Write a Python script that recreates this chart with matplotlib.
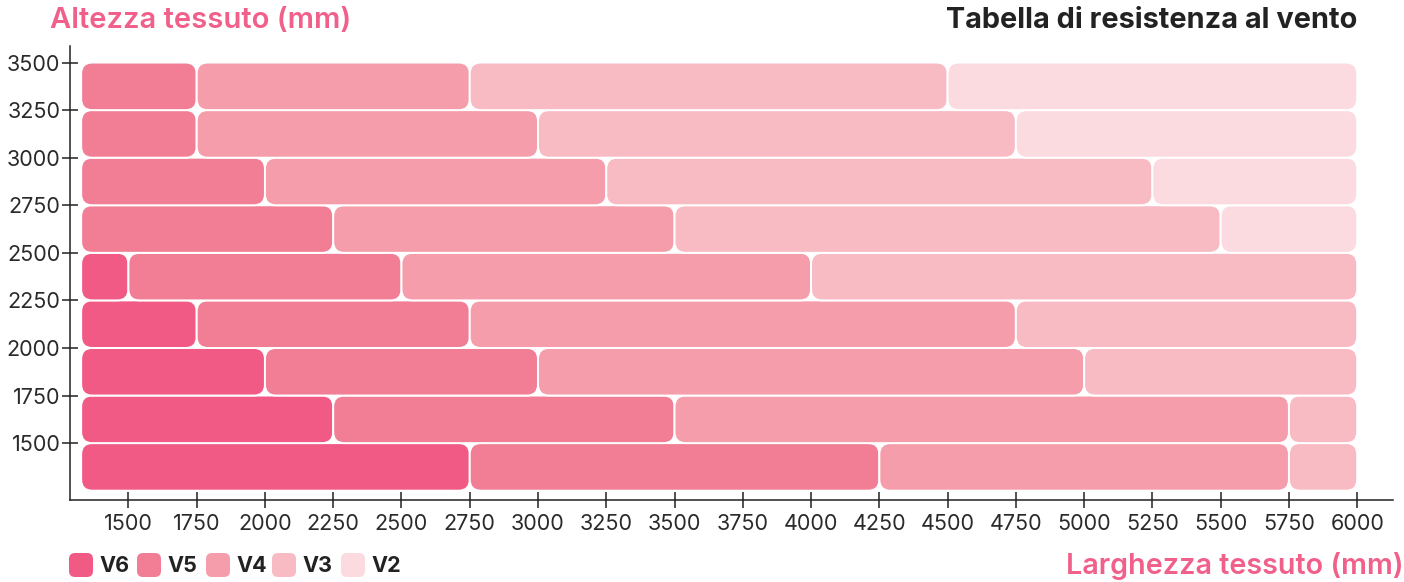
import matplotlib
matplotlib.use("Agg")
import matplotlib.pyplot as plt
from matplotlib.patches import FancyBboxPatch

plt.rcParams['font.family'] = ['Inter', 'DejaVu Sans']

# ---- data ----
row_lows = [1250, 1500, 1750, 2000, 2250, 2500, 2750, 3000, 3250]
row_height = 250
x_start = 1327
# segment right boundaries per row (each row: list of (class, end))
rows = {
    1250: [("V6", 2750), ("V5", 4250), ("V4", 5750), ("V3", 6000)],
    1500: [("V6", 2250), ("V5", 3500), ("V4", 5750), ("V3", 6000)],
    1750: [("V6", 2000), ("V5", 3000), ("V4", 5000), ("V3", 6000)],
    2000: [("V6", 1750), ("V5", 2750), ("V4", 4750), ("V3", 6000)],
    2250: [("V6", 1500), ("V5", 2500), ("V4", 4000), ("V3", 6000)],
    2500: [("V5", 2250), ("V4", 3500), ("V3", 5500), ("V2", 6000)],
    2750: [("V5", 2000), ("V4", 3250), ("V3", 5250), ("V2", 6000)],
    3000: [("V5", 1750), ("V4", 3000), ("V3", 4750), ("V2", 6000)],
    3250: [("V5", 1750), ("V4", 2750), ("V3", 4500), ("V2", 6000)],
}
classes = ["V6", "V5", "V4", "V3", "V2"]
colors = {"V6": "#F05A85", "V5": "#F27E95", "V4": "#F59DAA", "V3": "#F8BBC4", "V2": "#FBDBDF"}
x_ticks = list(range(1500, 6001, 250))
y_ticks = list(range(1500, 3501, 250))

title = "Tabella di resistenza al vento"
ylabel = "Altezza tessuto (mm)"
xlabel = "Larghezza tessuto (mm)"

W, H = 1404, 582
fig = plt.figure(figsize=(W / 100, H / 100), dpi=100)
ax = fig.add_axes([69.7 / W, (H - 500) / H, (1392.7 - 69.7) / W, (500 - 46) / H])
ax.set_xlim(1285, 6130)
ax.set_ylim(1201, 3587)

# pixel scale for round corners
fig.canvas.draw()
bb = ax.get_window_extent()
xu_per_px = (6130 - 1285) / bb.width
yu_per_px = (3587 - 1201) / bb.height
r_px = 11
rs = r_px * xu_per_px
aspect = yu_per_px / xu_per_px

for lo in row_lows:
    start = x_start
    for cls, end in rows[lo]:
        p = FancyBboxPatch((start, lo), end - start, row_height,
                           boxstyle=f"round,pad=0,rounding_size={rs}",
                           mutation_aspect=aspect,
                           facecolor=colors[cls], edgecolor="white", linewidth=1.4)
        ax.add_patch(p)
        start = end

for s in ["top", "right"]:
    ax.spines[s].set_visible(False)
for s in ["left", "bottom"]:
    ax.spines[s].set_color("#222222")
    ax.spines[s].set_linewidth(1.1)

ax.set_xticks(x_ticks)
ax.set_yticks(y_ticks)
ax.tick_params(direction="inout", length=11.5, width=1.1, color="#222222",
               labelsize=15.5, labelcolor="#2a2a2a")
ax.tick_params(axis="x", pad=4)
ax.tick_params(axis="y", pad=1)
for lab in ax.get_xticklabels() + ax.get_yticklabels():
    lab.set_fontweight("normal")

pink = "#F0608A"
fig.text(50 / W, 1 - 20 / H, ylabel, color=pink, fontsize=21, fontweight="semibold",
         ha="left", va="center")
fig.text(1357 / W, 1 - 20 / H, title, color="#222222", fontsize=20.8, fontweight="bold",
         ha="right", va="center")
fig.text(1404 / W, 1 - 566 / H, xlabel, color=pink, fontsize=20.7, fontweight="semibold",
         ha="right", va="center")

# legend in an overlay axes using pixel coordinates
lax = fig.add_axes([0, 0, 1, 1], zorder=5)
lax.set_xlim(0, W)
lax.set_ylim(H, 0)
lax.axis("off")
lax.patch.set_alpha(0)
leg_x = [69, 137, 206, 272, 341]
for cls, lx in zip(classes, leg_x):
    lax.add_patch(FancyBboxPatch((lx, 553), 24, 24, boxstyle="round,pad=0,rounding_size=6",
                                 facecolor=colors[cls], edgecolor="none"))
    lax.text(lx + 30, 566, cls, fontsize=15.5, fontweight="bold", color="#222222",
             ha="left", va="center")

fig.savefig("out.png", dpi=100)
